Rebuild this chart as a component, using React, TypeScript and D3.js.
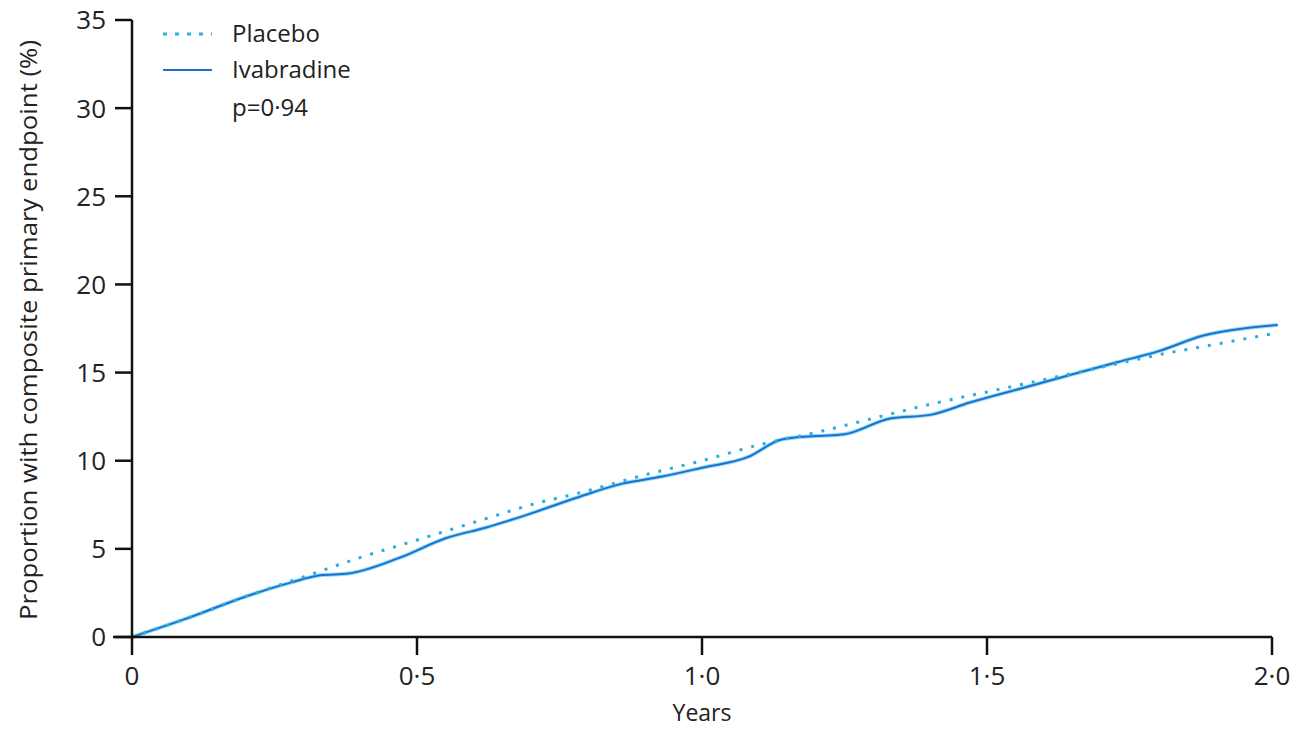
import React from "react";
import * as d3 from "d3";

const yTicks = [0, 5, 10, 15, 20, 25, 30, 35];
const xTicks = [0, 0.5, 1.0, 1.5, 2.0];
const xTickLabels = ["0", "0·5", "1·0", "1·5", "2·0"];

const placeboT = [0, 0.1, 0.2, 0.3, 0.4, 0.5, 0.6, 0.7, 0.8, 0.9, 1.0, 1.1, 1.2, 1.3, 1.4, 1.5, 1.6, 1.7, 1.8, 1.9, 2.0];
const placeboV = [0, 1.1, 2.3, 3.4, 4.5, 5.5, 6.5, 7.5, 8.3, 9.2, 10.0, 10.9, 11.6, 12.4, 13.2, 13.9, 14.6, 15.3, 16.0, 16.6, 17.2];

const ivabT = [0, 0.1, 0.2, 0.28, 0.33, 0.38, 0.47, 0.55, 0.62, 0.69, 0.78, 0.86, 0.93, 1.0, 1.08, 1.14, 1.2, 1.25, 1.33, 1.4, 1.47, 1.56, 1.65, 1.73, 1.8, 1.88, 1.95, 2.01];
const ivabV = [0, 1.1, 2.3, 3.1, 3.5, 3.6, 4.5, 5.6, 6.2, 6.9, 7.9, 8.7, 9.1, 9.6, 10.2, 11.2, 11.4, 11.5, 12.4, 12.6, 13.3, 14.1, 14.9, 15.6, 16.2, 17.1, 17.5, 17.7];

const legendLabels = ["Placebo", "Ivabradine"];
const pValueLabel = "p=0·94";
const xTitle = "Years";
const yTitle = "Proportion with composite primary endpoint (%)";

export default function App() {
  const W = 1303, H = 730;
  const x = d3.scaleLinear().domain([0, 2]).range([132, 1272]);
  const y = d3.scaleLinear().domain([0, 35]).range([637, 20]);
  const line = d3.line<[number, number]>().x(d => x(d[0])).y(d => y(d[1])).curve(d3.curveMonotoneX);
  const placebo = placeboT.map((t, i) => [t, placeboV[i]] as [number, number]);
  const ivab = ivabT.map((t, i) => [t, ivabV[i]] as [number, number]);
  const font = "'Open Sans', 'DejaVu Sans', sans-serif";
  return (
    <svg width={W} height={H} style={{ position: "absolute", left: 0, top: 0, background: "#fff" }} fontFamily={font}>
      <path d={line(ivab) || ""} fill="none" stroke="#5fd0f0" strokeWidth={4} opacity={0.7} />
      <path d={line(ivab) || ""} fill="none" stroke="#1f6fd2" strokeWidth={2} />
      <path d={line(placebo) || ""} fill="none" stroke="#2aaee0" strokeWidth={3} strokeDasharray="3,9" />
      <line x1={x(0)} x2={x(0)} y1={y(35)} y2={y(0)} stroke="#111" strokeWidth={2.5} />
      <line x1={113} x2={x(2)} y1={y(0)} y2={y(0)} stroke="#111" strokeWidth={2.5} />
      {yTicks.map(t => (
        <g key={"y" + t}>
          <line x1={115} x2={x(0)} y1={y(t)} y2={y(t)} stroke="#111" strokeWidth={2.5} />
          <text x={106} y={y(t)} dy="0.36em" textAnchor="end" fontSize={26} fill="#222">{t}</text>
        </g>
      ))}
      {xTicks.map((t, i) => (
        <g key={"x" + t}>
          <line x1={x(t)} x2={x(t)} y1={y(0)} y2={y(0) + 18} stroke="#111" strokeWidth={2.5} />
          <text x={x(t)} y={685} textAnchor="middle" fontSize={26} fill="#222">{xTickLabels[i]}</text>
        </g>
      ))}
      <text x={x(1)} y={721} textAnchor="middle" fontSize={23} fill="#222">{xTitle}</text>
      <text transform={`translate(37,330) rotate(-90)`} textAnchor="middle" fontSize={24} fill="#222" textLength={580} lengthAdjust="spacingAndGlyphs">{yTitle}</text>
      <line x1={163} x2={212} y1={34} y2={34} stroke="#2aaee0" strokeWidth={3} strokeDasharray="4,8" />
      <line x1={163} x2={212} y1={70} y2={70} stroke="#1f6fd2" strokeWidth={2} />
      <text x={232} y={42} fontSize={24} fill="#222">{legendLabels[0]}</text>
      <text x={232} y={78} fontSize={24} fill="#222">{legendLabels[1]}</text>
      <text x={232} y={116} fontSize={24} fill="#222">{pValueLabel}</text>
    </svg>
  );
}
